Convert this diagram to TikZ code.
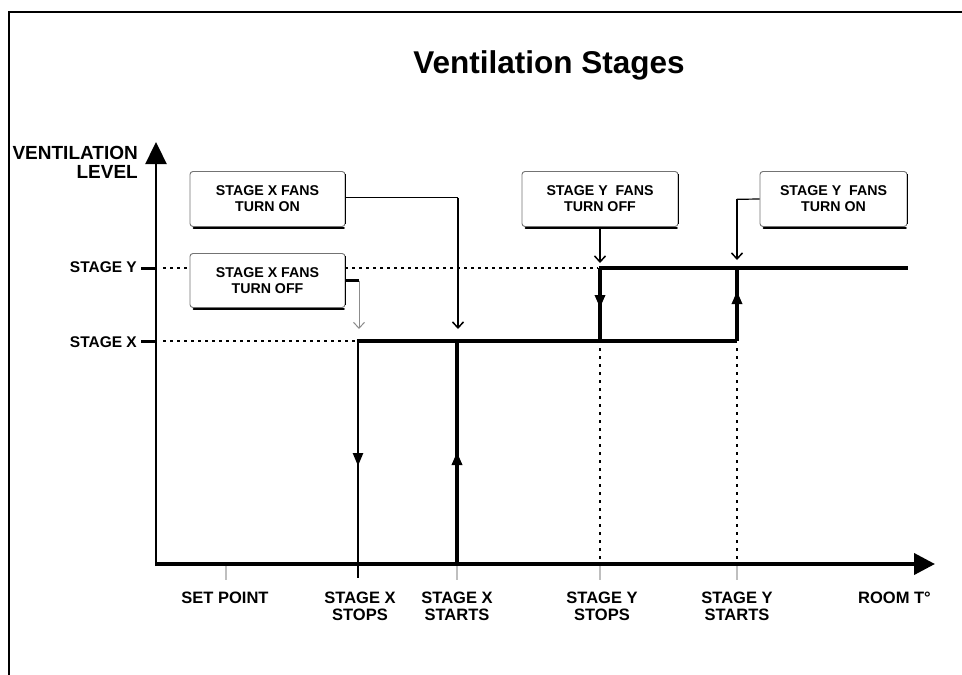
\documentclass[tikz,border=0pt]{standalone}
\usepackage{fontspec}
\setmainfont{Liberation Sans}
\usetikzlibrary{arrows.meta}
\begin{document}
\begin{tikzpicture}[x=1pt,y=-1pt,
  frame/.style={line width=1.8pt},
  axisline/.style={line width=2.4pt},
  xaxisline/.style={line width=4pt},
  thickline/.style={line width=4.3pt},
  medline/.style={line width=3.1pt},
  thinstep/.style={line width=2.4pt},
  dotline/.style={line width=2.6pt, dash pattern=on 2.8pt off 4.2pt},
  vdotline/.style={line width=2.8pt, dash pattern=on 2.8pt off 5.2pt},
  fanbox/.style={draw=black!55, fill=white, line width=0.9pt, rounded corners=3pt, inner sep=0pt,
    minimum height=55pt, align=center, font=\bfseries\fontsize{14.2}{16}\selectfont},
  conn/.style={line width=1.7pt, -{Straight Barb[length=6pt,width=11pt,line width=1.5pt]}},
  thinconn/.style={line width=0.8pt, draw=black!45, -{Straight Barb[length=6pt,width=11pt,line width=1pt]}},
  midtip/.style={-{Triangle[length=13pt,width=10pt]}},
  ylab/.style={anchor=base east, inner sep=0pt, font=\bfseries\fontsize{15.5}{17}\selectfont},
  xlab/.style={anchor=base, inner sep=0pt, align=center, font=\bfseries\fontsize{16.5}{17}\selectfont},
  tick/.style={line width=1.2pt, draw=black!25},
]
\useasboundingbox (0,0) rectangle (962,675);

% frame
\coordinate (fTL) at (9,12);
\coordinate (fTR) at (962,12);
\coordinate (fBL) at (9,675);
\draw[frame] (fBL) -- (fTL) -- (fTR);

% title
\node[anchor=base, inner sep=0pt, font=\bfseries\fontsize{31.5}{34}\selectfont] (title) at (549,73) {Ventilation Stages};

% key points
\coordinate (O) at (156,564);
\coordinate (Ob) at (156,566);
\coordinate (ytip) at (156,142);
\coordinate (xtip) at (935,564);
\coordinate (xstop) at (358,564);
\coordinate (xstopT) at (358,341);
\coordinate (xstart) at (457,564);
\coordinate (xstartT) at (457,341);
\coordinate (ystopB) at (600,341);
\coordinate (ystopT) at (600,268);
\coordinate (ystartB) at (737,341);
\coordinate (ystartT) at (737,268);
\coordinate (ymid) at (677,268);
\coordinate (yend) at (908,268);
\coordinate (lvY) at (141,268);
\coordinate (lvYa) at (156,268);
\coordinate (lvX) at (141,341);
\coordinate (lvXa) at (156,341);

% dotted guide lines
\draw[dotline] (163,268) -- (598,268);
\draw[dotline] (163,341) -- (356,341);
\draw[vdotline] (600,348) -- (600,562);
\draw[vdotline] (737,348) -- (737,562);

% ticks under x-axis
\coordinate (spT) at (226,566);
\coordinate (spB) at (226,580);
\draw[tick] (spT) -- (spB);
\draw[tick] (457,566) -- (457,580);
\draw[tick] (600,566) -- (600,580);
\draw[tick] (737,566) -- (737,580);
\draw[line width=2.4pt] (358,566) -- (358,578);

% y-level ticks
\draw[line width=3pt] (lvY) -- (lvYa);
\draw[line width=3pt] (lvX) -- (lvXa);

% axes
\draw[axisline, -{Triangle[length=22pt,width=21pt]}] (Ob) -- (ytip);
\draw[xaxisline, -{Triangle[length=21pt,width=21pt]}] (O) -- (xtip);

% step lines
\draw[thinstep] (xstop) -- (xstopT);
\draw[medline] (356.8,341) -- (xstartT);
\draw[thickline] (xstart) -- (xstartT);
\draw[thickline] (xstartT) -- (ystopB);
\draw[medline] (ystopB) -- (ystartB);
\draw[medline] (ystopB) -- (ystopT);
\draw[medline] (ystartB) -- (ystartT);
\draw[medline] (598.5,268) -- (ymid);
\draw[thickline] (ymid) -- (yend);

% mid arrows on verticals
\draw[thinstep, midtip] (358,415) -- (358,466);
\draw[thickline, midtip] (457,500) -- (457,452);
\draw[medline, midtip] (600,285) -- (600,308);
\draw[medline, midtip] (737,318) -- (737,291);

% boxes
\node[fanbox, minimum width=155pt] (b1) at (267.5,199) {STAGE X FANS\\TURN ON};
\node[fanbox, minimum width=155pt, minimum height=54pt] (b2) at (267.5,280.5) {STAGE X FANS\\TURN OFF};
\node[fanbox, minimum width=156pt] (b3) at (600,199) {STAGE Y\hspace{0.55em}FANS\\TURN OFF};
\node[fanbox, minimum width=147pt] (b4) at (833.5,199) {STAGE Y\hspace{0.55em}FANS\\TURN ON};
\foreach \b in {b1,b2,b3,b4}{
  \draw[line width=2pt, line cap=round] ([xshift=4pt,yshift=-1pt]\b.south west) -- ([xshift=-1.5pt,yshift=-1pt]\b.south east);
  \draw[line width=1.3pt] ([yshift=-3pt]\b.north east) -- ([yshift=3pt]\b.south east);
}

% connectors
\coordinate (c1) at (458,197.5);
\coordinate (c1tip) at (458,329);
\draw[line width=1.2pt] ([yshift=1.5pt]b1.east) -- (c1);
\draw[conn, line width=2.4pt] (c1) -- (c1tip);

\coordinate (c2) at (359,280.5);
\coordinate (c2tip) at (359,329);
\draw[line width=3pt] (b2.east) -- (c2);
\draw[thinconn] (c2) -- (c2tip);

\coordinate (c3tip) at (600,263);
\draw[conn, line width=2pt] (b3.south) -- (c3tip);

\coordinate (c4) at (737,199.3);
\coordinate (c4tip) at (737,260);
\draw[line width=1.2pt] (b4.west) -- (c4);
\draw[conn] (c4) -- (c4tip);

% y labels
\node[ylab, font=\bfseries\fontsize{19}{20}\selectfont] (vl) at (138,159) {VENTILATION};
\node[ylab, font=\bfseries\fontsize{19}{20}\selectfont] (lv) at (138,178) {LEVEL};
\node[ylab] (sy) at (137,272) {STAGE Y};
\node[ylab] (sx) at (137,347) {STAGE X};

% x labels (base = last line)
\node[xlab] (l1) at (225,603) {SET POINT};
\node[xlab] (l2) at (360,620) {STAGE X\\STOPS};
\node[xlab] (l3) at (457,620) {STAGE X\\STARTS};
\node[xlab] (l4) at (602,620) {STAGE Y\\STOPS};
\node[xlab] (l5) at (737,620) {STAGE Y\\STARTS};
\node[xlab, anchor=base east] (l6) at (931,603) {ROOM T°};
\end{tikzpicture}
\end{document}
